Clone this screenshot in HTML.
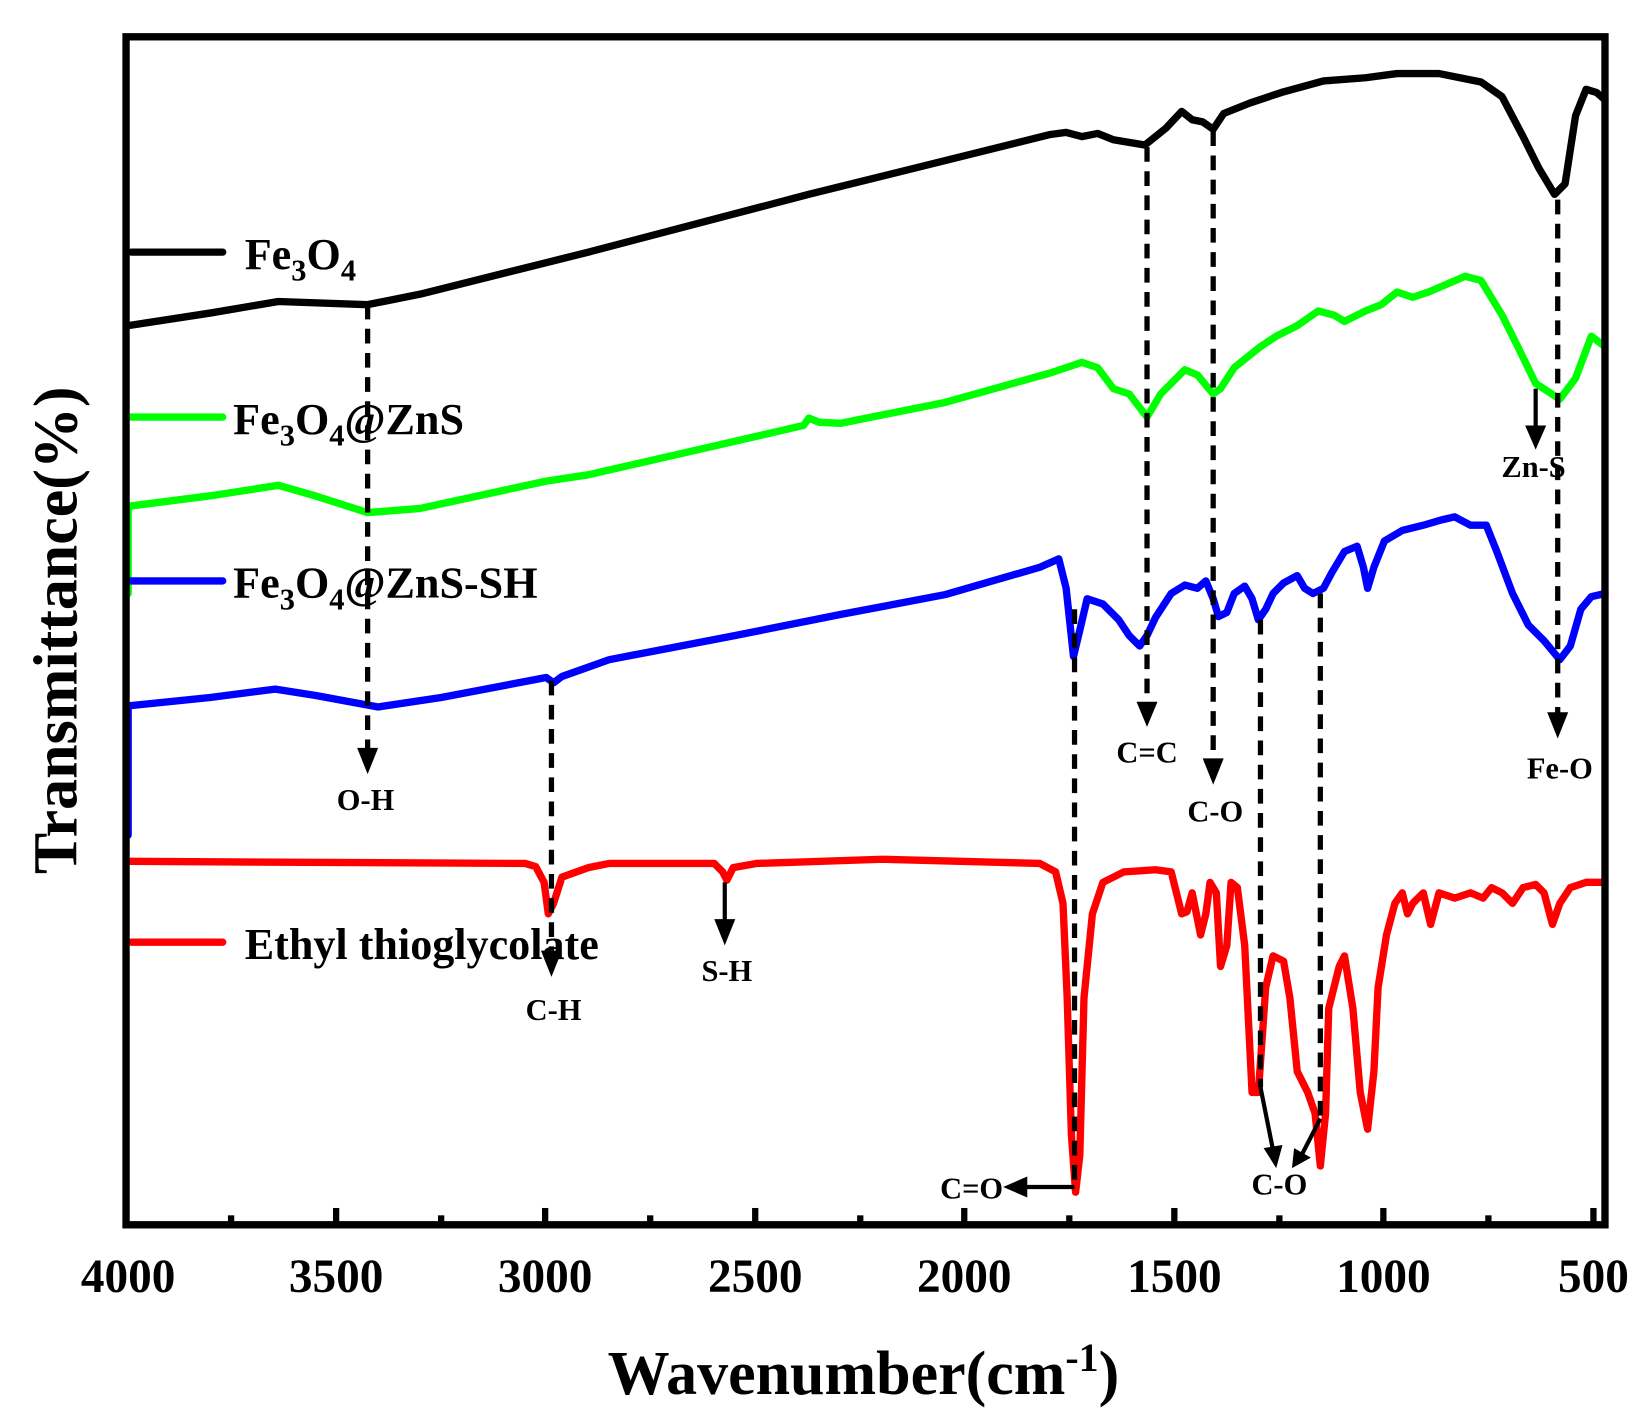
<!DOCTYPE html>
<html><head><meta charset="utf-8"><style>html,body{margin:0;padding:0;background:#fff}svg{display:block}</style></head>
<body>
<svg width="1647" height="1416" viewBox="0 0 1568 1348" xmlns="http://www.w3.org/2000/svg" font-family="'Liberation Serif',serif" font-weight="bold">
<rect width="1568" height="1348" fill="#fff"/>
<g fill="none" stroke-linejoin="round" stroke-linecap="round" stroke-width="7">
<polyline stroke="#000" points="122,310 200,298 265,287 350,290 400,280 520,250 560,240 770,185 1000,128 1015,126 1030,130 1045,127 1060,133 1090,138 1110,122 1125,106 1135,114 1145,116 1155,123 1165,108 1190,98 1220,88 1260,77 1300,74 1330,70 1370,70 1410,78 1430,92 1450,130 1465,160 1480,185 1490,175 1500,110 1510,85 1520,88 1528,95"/>
<polyline stroke="#00ff00" points="122,565 122,482 200,472 265,462 300,472 350,488 400,484 520,458 560,452 700,420 765,405 770,398 780,402 800,403 900,383 1000,355 1030,345 1045,350 1060,370 1075,375 1092,397 1105,375 1128,352 1140,357 1155,375 1162,370 1175,350 1200,330 1215,320 1235,310 1255,296 1270,300 1280,306 1300,296 1315,290 1330,278 1345,283 1360,278 1395,263 1410,267 1430,300 1445,330 1462,365 1485,380 1500,360 1515,320 1528,330"/>
<polyline stroke="#0000ff" points="122,795 122,672 200,664 262,656 300,662 360,673 420,664 520,645 527,650 535,644 580,628 700,605 800,585 900,566 990,540 1008,532 1015,560 1022,625 1028,600 1035,570 1050,575 1065,590 1075,605 1085,615 1092,605 1100,588 1115,565 1128,557 1140,560 1148,553 1155,570 1160,587 1168,583 1175,565 1185,558 1192,570 1198,590 1205,580 1212,565 1222,555 1235,548 1242,560 1250,565 1260,560 1268,545 1280,525 1292,520 1298,540 1302,560 1308,540 1318,515 1335,505 1355,500 1372,495 1385,492 1400,500 1415,500 1425,525 1440,565 1455,595 1470,610 1485,628 1495,615 1505,580 1515,568 1528,565"/>
<polyline stroke="#ff0000" points="122,820 500,822 510,825 518,840 522,870 527,860 535,835 560,826 580,822 680,822 688,830 692,838 698,826 720,822 840,818 990,822 1005,830 1012,860 1016,950 1020,1080 1024,1135 1028,1100 1032,950 1040,870 1050,840 1070,830 1100,828 1115,830 1120,850 1125,870 1130,868 1135,850 1140,875 1143,890 1148,870 1152,840 1158,850 1162,920 1168,900 1172,840 1178,845 1185,900 1192,1040 1198,1040 1205,940 1212,910 1222,915 1228,950 1235,1020 1245,1040 1252,1060 1257,1110 1262,1060 1265,960 1270,940 1275,920 1280,910 1288,960 1295,1040 1302,1075 1308,1020 1312,940 1320,890 1328,860 1335,850 1340,870 1345,860 1355,850 1362,880 1370,850 1385,855 1400,850 1412,855 1420,845 1430,850 1440,860 1450,845 1462,842 1470,850 1478,880 1485,860 1495,845 1510,840 1528,840"/>
<line x1="125" y1="240" x2="212" y2="240" stroke="#000"/>
<line x1="125" y1="397" x2="212" y2="397" stroke="#00ff00"/>
<line x1="125" y1="553" x2="212" y2="553" stroke="#0000ff"/>
<line x1="125" y1="897" x2="212" y2="897" stroke="#ff0000"/>
</g>
<g stroke="#000" stroke-width="5" stroke-dasharray="14,9" fill="none">
<line x1="350" y1="290" x2="350" y2="715"/>
<line x1="525" y1="648" x2="525" y2="905"/>
<line x1="1023" y1="580" x2="1023" y2="1130"/>
<line x1="1092" y1="140" x2="1092" y2="670"/>
<line x1="1155" y1="125" x2="1155" y2="725"/>
<line x1="1200" y1="590" x2="1200" y2="1035"/>
<line x1="1257" y1="565" x2="1257" y2="1065"/>
<line x1="1483" y1="190" x2="1483" y2="680"/>
</g>
<g stroke="#000" stroke-width="4" fill="none">
<line x1="690" y1="840" x2="690" y2="880"/>
<line x1="1462" y1="370" x2="1462" y2="408"/>
<line x1="1023" y1="1130" x2="975" y2="1130"/>
<line x1="1200" y1="1035" x2="1212" y2="1095"/>
<line x1="1257" y1="1065" x2="1240" y2="1098"/>
</g>
<g fill="#000">
<polygon points="340,712 360,712 350,737"/>
<polygon points="515,905 535,905 525,930"/>
<polygon points="680,875 700,875 690,900"/>
<polygon points="1452,405 1472,405 1462,428"/>
<polygon points="1082,668 1102,668 1092,692"/>
<polygon points="1145,722 1165,722 1155,747"/>
<polygon points="1473,678 1493,678 1483,703"/>
<polygon points="978,1120 978,1140 955,1130"/>
<polygon points="1203,1093 1221,1090 1215,1112"/>
<polygon points="1232,1093 1248,1102 1230,1112"/>
</g>
<g font-size="29" text-anchor="middle" fill="#000">
<text x="348" y="771">O-H</text>
<text x="527" y="971">C-H</text>
<text x="692" y="934">S-H</text>
<text x="925" y="1141">C=O</text>
<text x="1092" y="726">C=C</text>
<text x="1157" y="782">C-O</text>
<text x="1218" y="1137">C-O</text>
<text x="1485" y="741">Fe-O</text>
<text x="1460" y="454">Zn-S</text>
</g>
<g font-size="42" fill="#000">
<text x="233" y="256">Fe<tspan font-size="29" dy="11">3</tspan><tspan dy="-11">O</tspan><tspan font-size="29" dy="11">4</tspan></text>
<text x="222" y="413">Fe<tspan font-size="29" dy="11">3</tspan><tspan dy="-11">O</tspan><tspan font-size="29" dy="11">4</tspan><tspan dy="-11">@ZnS</tspan></text>
<text x="222" y="569">Fe<tspan font-size="29" dy="11">3</tspan><tspan dy="-11">O</tspan><tspan font-size="29" dy="11">4</tspan><tspan dy="-11">@ZnS-SH</tspan></text>
<text x="233" y="913">Ethyl thioglycolate</text>
</g>
<rect x="120" y="35" width="1408" height="1131" fill="none" stroke="#000" stroke-width="7"/>
<g stroke="#000" stroke-width="6">
<line x1="120" y1="1166" x2="120" y2="1150"/><line x1="320" y1="1166" x2="320" y2="1150"/><line x1="519" y1="1166" x2="519" y2="1150"/><line x1="719" y1="1166" x2="719" y2="1150"/><line x1="918" y1="1166" x2="918" y2="1150"/><line x1="1118" y1="1166" x2="1118" y2="1150"/><line x1="1317" y1="1166" x2="1317" y2="1150"/><line x1="1517" y1="1166" x2="1517" y2="1150"/>
<line x1="220" y1="1166" x2="220" y2="1157"/><line x1="420" y1="1166" x2="420" y2="1157"/><line x1="619" y1="1166" x2="619" y2="1157"/><line x1="819" y1="1166" x2="819" y2="1157"/><line x1="1018" y1="1166" x2="1018" y2="1157"/><line x1="1218" y1="1166" x2="1218" y2="1157"/><line x1="1417" y1="1166" x2="1417" y2="1157"/>
</g>
<g font-size="45" text-anchor="middle" fill="#000">
<text x="122" y="1230">4000</text><text x="320" y="1230">3500</text><text x="519" y="1230">3000</text><text x="719" y="1230">2500</text><text x="918" y="1230">2000</text><text x="1118" y="1230">1500</text><text x="1317" y="1230">1000</text><text x="1517" y="1230">500</text>
</g>
<text x="822" y="1327" font-size="59" text-anchor="middle">Wavenumber(cm<tspan font-size="38" dy="-22">-1</tspan><tspan dy="22">)</tspan></text>
<text transform="translate(73,600) rotate(-90)" font-size="59" text-anchor="middle">Transmittance(%)</text>
</svg>
</body></html>
